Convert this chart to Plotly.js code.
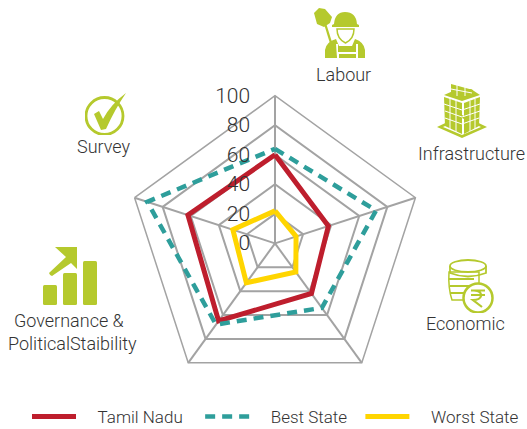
<!DOCTYPE html>
<html>
<head>
<meta charset="utf-8">
<script src="https://cdn.plot.ly/plotly-3.0.1.min.js"></script>
<style>html,body{margin:0;padding:0;background:#fff}#chart{width:527px;height:429px}</style>
</head>
<body>
<div id="chart"></div>
<script>
var categories = ['Labour', 'Infrastructure', 'Economic', 'Governance & PoliticalStaibility', 'Survey'];
var tamilNadu = [60, 38, 42, 65, 62];
var bestState = [64, 72, 54, 68, 91];
var worstState = [22, 15, 24, 33, 30];
var radialTicks = [0, 20, 40, 60, 80, 100];

var W = 527, H = 429;
var GREEN = '#B5C92D';
var FONT = 'Roboto, "Open Sans", sans-serif';

function closed(a) { return a.concat([a[0]]); }
function px(x) { return x / W; }
function py(y) { return 1 - y / H; }
function pad(name, before, after) {
  return '\u00a0'.repeat(before) + name + '\u00a0'.repeat(after);
}
function uri(w, h, body) {
  return 'data:image/svg+xml;charset=utf-8,' + encodeURIComponent(
    '<svg xmlns="http://www.w3.org/2000/svg" width="' + w * 4 + '" height="' + h * 4 + '" viewBox="0 0 ' + w + ' ' + h + '">' + body + '</svg>');
}
function icon(x, y, w, h, body) {
  return { source: uri(w, h, body), xref: 'paper', yref: 'paper', x: px(x), y: py(y),
           sizex: w / W, sizey: h / H, xanchor: 'left', yanchor: 'top', layer: 'above' };
}

var labourIcon = '<g fill="' + GREEN + '">' +
  '<path d="M1 5 L6 0 L12 1 L19 9 L17 15 L11 19 L4 16 Z"/>' +
  '<path d="M11 16 L13 15 L24 50 L21.500 50 Z"/>' +
  '<path d="M21 16 Q22 4 32 4 Q43 4 44 16 L46 17 L46 19 L19 19 L19 17 Z"/>' +
  '<path d="M24 21 L41 21 Q41 31 32.500 35 Q24 31 24 21 Z" fill="none" stroke="' + GREEN + '" stroke-width="1.500"/>' +
  '<path d="M12 50 L12 42 Q13 34 23 31 L26 38 L39 38 L42 31 Q51 34 52 42 L52 50 L45 50 L45 36 L43 36 L43 44 L25 44 L25 36 L23 36 L24 50 Z"/>' +
  '<rect x="26" y="46" width="17" height="4"/>' +
  '</g>';

var infraIcon = '<g fill="' + GREEN + '">' +
  '<path d="M0 44 L25 32 L50 44 L25 55 Z M6 44 L25 52 L44 44 L25 35 Z" fill-rule="evenodd"/>' +
  '<path d="M7 14 L25 20 L25 51 L8 43 Z"/>' +
  '<path d="M27 20 L43 14 L42 43 L27 51 Z"/>' +
  '<path d="M7 12 L16 8 L34 6 L43 12 L25 18 Z"/>' +
  '<path d="M14 1 L36 7 L35 14 L14 12 Z"/>' +
  '<g stroke="#fff" stroke-width="1">' +
  '<path d="M13 15 V46 M19 17 V49 M33 18 V48 M38 16 V46" fill="none"/>' +
  '<path d="M7 21 L25 27 L43 21 M8 28 L25 34 L43 28 M8 35 L25 41 L42 35" fill="none"/>' +
  '<path d="M14 6 L35 10 M20 2 V13 M28 4 V13" fill="none"/></g>' +
  '</g>';

var coinIcon = '<g fill="#fff" stroke="' + GREEN + '" stroke-width="1.800">' +
  '<path d="M3 14 H33 V42 H6 Q2 30 3 14 Z" stroke-width="1.500"/>' +
  '<path d="M3 21 H28 M4 28 H28 M4 35 H28" fill="none"/>' +
  '<ellipse cx="22" cy="8" rx="18" ry="6"/>' +
  '<path d="M4 8 V15 Q22 22 40 15 V8" fill="none"/>' +
  '<circle cx="32" cy="40" r="14.500" stroke-width="2.500"/>' +
  '<path d="M25 32.500 H39 M25 37 H39 M28 32.500 Q36 33 35 38 Q34 42 27 42 L36 49" fill="none" stroke-width="2.200"/>' +
  '</g>';

var govIcon = '<g fill="' + GREEN + '">' +
  '<rect x="0" y="38" width="14" height="20" rx="1.500"/>' +
  '<rect x="20" y="26" width="14" height="32" rx="1.500"/>' +
  '<rect x="40" y="14" width="14" height="44" rx="1.500"/>' +
  '<path d="M12 0 H34 V22 L28 16 L9 29 Q7 29 6 26 L23 10 Z"/>' +
  '</g>';

var surveyIcon = '<circle cx="19.500" cy="23" r="18.500" fill="none" stroke="' + GREEN + '" stroke-width="2.800"/>' +
  '<path d="M9 21 L14 18 L18 26 Q26 11 41 0 Q30 16 21 36 L16 37 Z" fill="' + GREEN + '"/>';

function label(text, x, y) {
  return { text: text, xref: 'paper', yref: 'paper', x: px(x), y: py(y), xanchor: 'center', yanchor: 'middle',
           showarrow: false, font: { family: FONT, size: 18, color: '#333333', weight: 300 } };
}

var traces = [
  { name: pad('Tamil Nadu', 4, 3), values: tamilNadu, color: '#BE1E2D', dash: 'solid', width: 5 },
  { name: pad('Best State', 4, 2), values: bestState, color: '#2E9E9B', dash: '10px,7px', width: 4.500 },
  { name: pad('Worst State', 4, 0), values: worstState, color: '#FFD500', dash: 'solid', width: 5 }
].map(function (s) {
  return { type: 'scatterpolar', mode: 'lines', name: s.name, r: closed(s.values), theta: closed(categories),
           line: { color: s.color, width: s.width, dash: s.dash }, hoverinfo: 'skip' };
});

var layout = {
  width: W, height: H,
  margin: { l: 0, r: 0, t: 0, b: 0, autoexpand: false },
  paper_bgcolor: '#fff',
  font: { family: FONT, color: '#333333' },
  polar: {
    bgcolor: 'rgba(0,0,0,0)',
    gridshape: 'linear',
    domain: { x: [px(127.3), px(422.7)], y: [py(391), py(95.7)] },
    angularaxis: { type: 'category', categoryorder: 'array', categoryarray: categories, direction: 'clockwise', rotation: 90,
                   showticklabels: false, ticks: '', gridcolor: '#A3A3A3', gridwidth: 1.500, linecolor: '#A3A3A3', linewidth: 1.500 },
    radialaxis: { range: [0, 100], angle: 90, side: 'counterclockwise', tickvals: radialTicks, ticktext: radialTicks.map(String), showline: false,
                  gridcolor: '#A3A3A3', gridwidth: 1.500, ticks: 'outside', ticklen: 17, tickcolor: 'rgba(0,0,0,0)',
                  tickangle: 90, tickfont: { family: FONT, size: 21, color: '#333333', weight: 300 } }
  },
  legend: { orientation: 'h', x: px(27), xanchor: 'left', y: py(417), yanchor: 'middle', itemwidth: 44,
            traceorder: 'normal', font: { family: FONT, size: 17, color: '#333333', weight: 300 },
            itemclick: false, itemdoubleclick: false },
  annotations: [
    label('Labour', 343, 75),
    label('Infrastructure', 471.500, 153),
    label('Economic', 465.500, 323),
    label('Governance &', 69, 320),
    label('PoliticalStaibility', 72, 343),
    label('Survey', 104, 146)
  ],
  images: [
    icon(313, 8, 52, 50, labourIcon),
    icon(437, 83, 50, 55, infraIcon),
    icon(446, 258, 48, 55, coinIcon),
    icon(43, 247, 54, 58, govIcon),
    icon(85, 93, 41, 42, surveyIcon)
  ]
};

Plotly.newPlot('chart', traces, layout, { displayModeBar: false });
</script>
</body>
</html>
